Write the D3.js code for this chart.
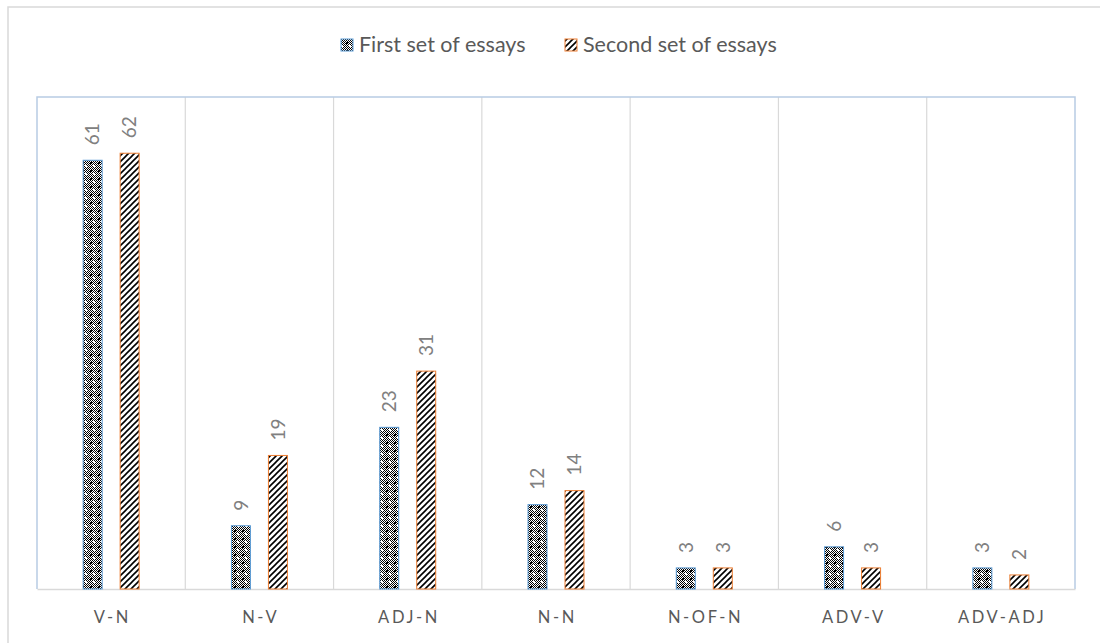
<!DOCTYPE html>
<html><head><meta charset="utf-8">
<script src="https://cdn.jsdelivr.net/npm/d3@7"></script>
<style>html,body{margin:0;padding:0;background:#fff;}svg{display:block;}</style>
</head><body>
<svg id="chart" width="1100" height="643"></svg>
<script>
const categories = ["V-N","N-V","ADJ-N","N-N","N-OF-N","ADV-V","ADV-ADJ"];
const firstSet = [61,9,23,12,3,6,3];
const secondSet = [62,19,31,14,3,3,2];
const seriesNames = ["First set of essays","Second set of essays"];
const yDomain = [0,70];

const svg = d3.select("#chart");
const W = 1100, H = 643;
const FONT = "Lato, 'Noto Sans', sans-serif";
const plot = {left:37, top:97, right:1075, bottom:589};

const defs = svg.append("defs");
// checker-like pattern for first series
const pA = defs.append("pattern").attr("id","patA").attr("patternUnits","userSpaceOnUse")
  .attr("width",8).attr("height",8);
pA.append("rect").attr("width",8).attr("height",8).attr("fill","#fff");
const cells = [];
for(let yy=0;yy<8;yy++)for(let xx=0;xx<8;xx++){ if((xx+yy)%2===0) cells.push([xx,yy]); }
pA.selectAll("rect.c").data(cells).join("rect").attr("class","c")
  .attr("x",d=>d[0]).attr("y",d=>d[1]).attr("width",1).attr("height",1).attr("fill","#000");
pA.append("rect").attr("x",2).attr("y",2).attr("width",2).attr("height",2).attr("fill","#000");
pA.append("rect").attr("x",6).attr("y",6).attr("width",1).attr("height",1).attr("fill","#fff");
pA.append("rect").attr("x",5).attr("y",5).attr("width",1).attr("height",1).attr("fill","#fff");

// upward diagonal for second series
const pB = defs.append("pattern").attr("id","patB").attr("patternUnits","userSpaceOnUse")
  .attr("width",6).attr("height",6);
pB.append("rect").attr("width",6).attr("height",6).attr("fill","#fff");
pB.append("path").attr("d","M-1,7 L7,-1 M-4,4 L4,-4 M2,10 L10,2")
  .attr("stroke","#000").attr("stroke-width",1.6);

// outer chart border
svg.append("rect").attr("x",8).attr("y",7).attr("width",W).attr("height",H)
  .attr("fill","none").attr("stroke","#d9d9d9").attr("stroke-width",1.5);

const x0 = d3.scaleBand().domain(categories).range([plot.left, plot.right]).paddingInner(0).paddingOuter(0);
const y = d3.scaleLinear().domain(yDomain).range([plot.bottom, plot.top]);

// category divider lines
const bounds = categories.slice(1).map(c => x0(c));
svg.append("g").selectAll("line").data(bounds).join("line")
  .attr("x1",d=>d).attr("x2",d=>d).attr("y1",plot.top).attr("y2",plot.bottom)
  .attr("stroke","#d9d9d9").attr("stroke-width",1.2);

// plot area border (left, top, right)
svg.append("path")
  .attr("d",`M${plot.left},${plot.bottom} L${plot.left},${plot.top} L${plot.right},${plot.top} L${plot.right},${plot.bottom}`)
  .attr("fill","none").attr("stroke","#b8cce4").attr("stroke-width",1.5);

// x axis
const xAxis = d3.axisBottom(x0).tickSize(0).tickPadding(22);
const gx = svg.append("g").attr("transform",`translate(0,${plot.bottom})`).call(xAxis);
gx.select(".domain").attr("stroke","#d9d9d9").attr("stroke-width",1.5);
gx.selectAll("text").attr("font-family",FONT).attr("font-size",16.5).attr("fill","#595959")
  .attr("letter-spacing","2.6px").attr("dx","1.3");

const barW = 19, off = 18.5;
const series = [
  {name:seriesNames[0], values:firstSet, fill:"url(#patA)", stroke:"#5b9bd5", dx:-off},
  {name:seriesNames[1], values:secondSet, fill:"url(#patB)", stroke:"#ed7d31", dx:off}
];
series.forEach(s => {
  const g = svg.append("g");
  g.selectAll("rect").data(categories).join("rect")
    .attr("x",(c)=>x0(c)+x0.bandwidth()/2+s.dx-barW/2)
    .attr("y",(c,i)=>y(s.values[i]))
    .attr("width",barW)
    .attr("height",(c,i)=>y(0)-y(s.values[i]))
    .attr("fill",s.fill).attr("stroke",s.stroke).attr("stroke-width",1);
  g.selectAll("text").data(categories).join("text")
    .attr("transform",(c,i)=>`translate(${x0(c)+x0.bandwidth()/2+s.dx},${y(s.values[i])-15}) rotate(-90)`)
    .attr("dy","0.36em").attr("text-anchor","start")
    .attr("font-family",FONT).attr("font-size",19).attr("fill","#808080")
    .text((c,i)=>s.values[i]);
});

// legend
const legend = svg.append("g");
const legendItems = [{x:341, s:series[0]},{x:565, s:series[1]}];
legendItems.forEach(it => {
  legend.append("rect").attr("x",it.x).attr("y",39).attr("width",12).attr("height",12)
    .attr("fill",it.s.fill).attr("stroke",it.s.stroke).attr("stroke-width",1);
  legend.append("text").attr("x",it.x+18).attr("y",52)
    .attr("font-family",FONT).attr("font-size",21.5).attr("fill","#595959")
    .text(it.s.name);
});
</script>
</body></html>
